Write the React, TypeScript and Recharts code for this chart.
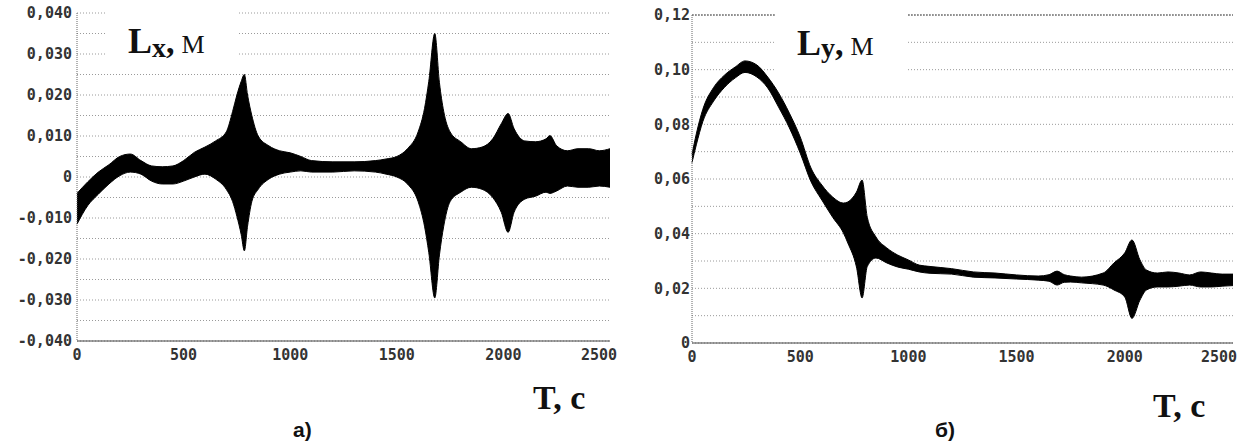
import React from 'react';
import { AreaChart, Area, XAxis, YAxis, CartesianGrid, ReferenceLine } from 'recharts';

// ---------------------------------------------------------------------------
// Data
// ---------------------------------------------------------------------------

const T_TICKS = [0, 500, 1000, 1500, 2000, 2500];

const LX_TICKS = [
  -0.04, -0.035, -0.03, -0.025, -0.02, -0.015, -0.01, -0.005, 0,
  0.005, 0.01, 0.015, 0.02, 0.025, 0.03, 0.035, 0.04,
];
const LY_TICKS = [0, 0.01, 0.02, 0.03, 0.04, 0.05, 0.06, 0.07, 0.08, 0.09, 0.1, 0.11, 0.12];

// panel a) Lx envelope
const LX_TIME = [
  0, 50, 100, 150, 200, 250, 300, 350, 400, 450, 500, 550, 600, 650, 700, 730, 750, 770,
  785, 800, 820, 850, 900, 950, 1000, 1050, 1100, 1200, 1300, 1400, 1450, 1500, 1550,
  1600, 1630, 1650, 1678, 1700, 1720, 1750, 1800, 1850, 1900, 1950, 1990, 2022, 2050,
  2100, 2150, 2200, 2218, 2250, 2300, 2350, 2400, 2450, 2500,
];
const LX_UPPER = [
  -0.004, -0.0012, 0.0012, 0.003, 0.005, 0.0056, 0.004, 0.0027, 0.0025, 0.0027, 0.004,
  0.006, 0.0073, 0.0088, 0.011, 0.016, 0.02, 0.0233, 0.025, 0.02, 0.015, 0.01, 0.0076,
  0.0064, 0.0059, 0.005, 0.004, 0.0037, 0.0037, 0.004, 0.0044, 0.005, 0.0069, 0.011,
  0.0167, 0.0233, 0.035, 0.023, 0.016, 0.011, 0.0086, 0.0069, 0.0073, 0.0093, 0.013,
  0.0155, 0.0118, 0.0088, 0.0086, 0.0093, 0.0101, 0.0076, 0.0064, 0.0069, 0.0069,
  0.0064, 0.0069,
];
const LX_LOWER = [
  -0.0115, -0.007, -0.0042, -0.0017, 0.0003, 0.0012, 0.0007, -0.001, -0.0017, -0.0017,
  -0.001, 0, 0.0007, -0.0005, -0.003, -0.006, -0.0096, -0.014, -0.018, -0.012, -0.006,
  -0.003, -0.0005, 0.0007, 0.0012, 0.0015, 0.0012, 0.0012, 0.0015, 0.0012, 0.0007, 0,
  -0.0017, -0.006, -0.012, -0.0184, -0.0295, -0.019, -0.012, -0.006, -0.0037, -0.0025,
  -0.003, -0.005, -0.0086, -0.0135, -0.0086, -0.0054, -0.0047, -0.0037, -0.004, -0.0034,
  -0.0022, -0.0025, -0.0025, -0.0022, -0.0025,
];

// panel б) Ly envelope
const LY_TIME = [
  0, 20, 50, 100, 150, 200, 245, 300, 350, 400, 450, 500, 550, 600, 650, 700, 720, 760,
  786, 810, 850, 900, 950, 1000, 1050, 1100, 1200, 1300, 1400, 1500, 1600, 1650, 1687,
  1720, 1750, 1800, 1900, 1950, 2000, 2033, 2070, 2100, 2150, 2200, 2250, 2300, 2350,
  2400, 2450, 2500,
];
const LY_UPPER = [
  0.069, 0.0765, 0.0855, 0.0935, 0.098, 0.101, 0.1032, 0.1017, 0.0973, 0.0915, 0.0841,
  0.0754, 0.064, 0.0578, 0.0534, 0.0512, 0.0516, 0.0552, 0.0596, 0.046, 0.0388, 0.0348,
  0.0322, 0.0304, 0.0285, 0.028, 0.0272, 0.026, 0.0256, 0.0249, 0.0245, 0.025, 0.0263,
  0.025, 0.0245, 0.0241, 0.0256, 0.0293, 0.033, 0.0377, 0.0304, 0.0267, 0.0256, 0.026,
  0.0256, 0.0249, 0.026, 0.0256, 0.0252, 0.0252,
];
const LY_LOWER = [
  0.066, 0.0725, 0.081, 0.0885, 0.0935, 0.097, 0.099, 0.0973, 0.0933, 0.0863, 0.0787,
  0.0695, 0.059, 0.0523, 0.046, 0.0402, 0.0366, 0.0278, 0.0165, 0.028, 0.0311, 0.0293,
  0.0278, 0.027, 0.026, 0.0255, 0.0252, 0.0241, 0.0238, 0.0234, 0.023, 0.0226, 0.0212,
  0.0222, 0.0223, 0.022, 0.0212, 0.0194, 0.0168, 0.009, 0.0157, 0.0194, 0.0205, 0.0205,
  0.0208, 0.0212, 0.0205, 0.0205, 0.0208, 0.021,
];

const lxData = LX_TIME.map((t, i) => ({ t, band: [LX_LOWER[i], LX_UPPER[i]] }));
const lyData = LY_TIME.map((t, i) => ({ t, band: [LY_LOWER[i], LY_UPPER[i]] }));

// ---------------------------------------------------------------------------
// Helpers
// ---------------------------------------------------------------------------

const MONO = '"DejaVu Sans Mono", monospace';
const SERIF = '"Liberation Serif", "Times New Roman", serif';
const tickStyle = { fontFamily: MONO, fontSize: 15, fontWeight: 'bold', fill: '#333' };

const comma = (v: number, digits: number) =>
  v === 0 ? '0' : v.toFixed(digits).replace('.', ',');

const fmtLx = (v: number) =>
  Math.abs(Math.round(v * 1000)) % 10 === 0 ? comma(v, 3) : '';
const fmtLy = (v: number) => (Math.round(v * 100) % 2 === 0 ? comma(v, 2) : '');

const TimeTick = ({ x, y, payload }: any) => (
  <text
    x={payload.value === 2500 ? x - 11 : x}
    y={y}
    dy={11}
    textAnchor="middle"
    {...tickStyle}
  >
    {payload.value}
  </text>
);

// ---------------------------------------------------------------------------
// Component
// ---------------------------------------------------------------------------

export default function App() {
  return (
    <div style={{ position: 'absolute', left: 0, top: 0, width: 1246, height: 446, background: '#fff' }}>
      {/* a) */}
      <div style={{ position: 'absolute', left: 0, top: 0 }}>
        <AreaChart width={640} height={446} data={lxData} margin={{ top: 13, right: 30, bottom: 75, left: 0 }}>
          <CartesianGrid vertical={false} stroke="#9a9a9a" strokeDasharray="1 2" />
          <XAxis
            dataKey="t"
            type="number"
            domain={[0, 2500]}
            ticks={T_TICKS}
            height={30}
            tickLine={false}
            tickSize={6}
            tickMargin={2}
            axisLine={{ stroke: '#444' }}
            tick={<TimeTick />}
          />
          <YAxis
            type="number"
            domain={[-0.04, 0.04]}
            ticks={LX_TICKS}
            interval={0}
            width={77}
            tickLine={false}
            tickSize={3}
            tickMargin={2}
            axisLine={{ stroke: '#666', strokeDasharray: '1 1' }}
            tick={tickStyle}
            tickFormatter={fmtLx}
            allowDataOverflow
          />
          <Area
            dataKey="band"
            type="monotone"
            stroke="#000"
            strokeWidth={1}
            fill="#000"
            fillOpacity={1}
            isAnimationActive={false}
          />
        </AreaChart>
      </div>

      {/* б) */}
      <div style={{ position: 'absolute', left: 620, top: 0 }}>
        <AreaChart width={626} height={446} data={lyData} margin={{ top: 15, right: 13, bottom: 73, left: 0 }}>
          <CartesianGrid vertical={false} stroke="#9a9a9a" strokeDasharray="1 2" />
          <ReferenceLine y={0.12} stroke="#555" strokeDasharray="2 1" />
          <XAxis
            dataKey="t"
            type="number"
            domain={[0, 2500]}
            ticks={T_TICKS}
            height={30}
            tickLine={false}
            tickSize={6}
            tickMargin={2}
            axisLine={{ stroke: '#444' }}
            tick={<TimeTick />}
          />
          <YAxis
            type="number"
            domain={[0, 0.12]}
            ticks={LY_TICKS}
            interval={0}
            width={72}
            tickLine={false}
            tickSize={1}
            tickMargin={1}
            axisLine={{ stroke: '#666', strokeDasharray: '1 1' }}
            tick={tickStyle}
            tickFormatter={fmtLy}
            allowDataOverflow
          />
          <Area
            dataKey="band"
            type="monotone"
            stroke="#000"
            strokeWidth={1}
            fill="#000"
            fillOpacity={1}
            isAnimationActive={false}
          />
        </AreaChart>
      </div>

      {/* titles and captions */}
      <svg width={1246} height={446} style={{ position: 'absolute', left: 0, top: 0, pointerEvents: 'none' }}>
        <rect x={107} y={0} width={131} height={63} fill="#fff" />
        <rect x={775} y={0} width={132} height={85} fill="#fff" />

        <text x={128} y={53} fontFamily={SERIF} fill="#111">
          <tspan fontSize={36} fontWeight="bold">L</tspan>
          <tspan fontSize={28} fontWeight="bold" dy={4}>x</tspan>
          <tspan fontSize={34} fontWeight="bold" dy={-4}>,</tspan>
          <tspan fontSize={26} dx={7}>М</tspan>
        </text>
        <text x={797} y={55} fontFamily={SERIF} fill="#111">
          <tspan fontSize={36} fontWeight="bold">L</tspan>
          <tspan fontSize={28} fontWeight="bold" dy={2}>y</tspan>
          <tspan fontSize={34} fontWeight="bold" dy={-2}>,</tspan>
          <tspan fontSize={26} dx={7}>М</tspan>
        </text>

        <text x={533} y={409} fontFamily={SERIF} fontSize={34} fontWeight="bold" fill="#111">T, c</text>
        <text x={1153} y={417} fontFamily={SERIF} fontSize={34} fontWeight="bold" fill="#111">T, c</text>

        <text x={293} y={437} fontFamily='"Liberation Sans", Arial, sans-serif' fontSize={21} fontWeight="bold" fill="#111">а)</text>
        <text x={935} y={437} fontFamily='"Liberation Sans", Arial, sans-serif' fontSize={21} fontWeight="bold" fill="#111">б)</text>
      </svg>
    </div>
  );
}
